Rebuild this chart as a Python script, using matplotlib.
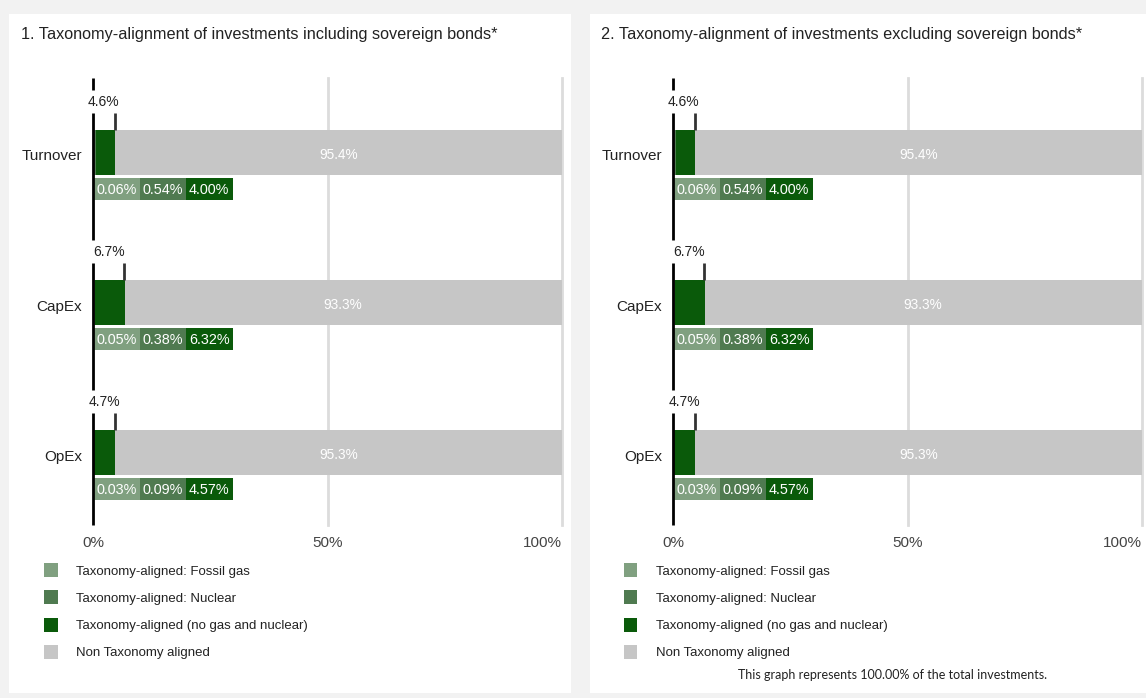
import matplotlib
matplotlib.use("Agg")
import matplotlib.pyplot as plt
from matplotlib.patches import Rectangle

plt.rcParams['font.family'] = ['Liberation Sans', 'DejaVu Sans']

W, H = 1146, 698

categories = ["Turnover", "CapEx", "OpEx"]
fossil_gas = [0.06, 0.05, 0.03]
nuclear = [0.54, 0.38, 0.09]
aligned_no_gas = [4.00, 6.32, 4.57]
total_aligned = [4.6, 6.7, 4.7]
non_aligned = [95.4, 93.3, 95.3]
titles = ["1. Taxonomy-alignment of investments including sovereign bonds*",
          "2. Taxonomy-alignment of investments excluding sovereign bonds*"]
legend_labels = ["Taxonomy-aligned: Fossil gas", "Taxonomy-aligned: Nuclear",
                 "Taxonomy-aligned (no gas and nuclear)", "Non Taxonomy aligned"]
xticks = [0, 50, 100]
xtick_labels = ["0%", "50%", "100%"]
footnote = "This graph represents 100.00% of the total investments."

C_GAS = "#80a080"
C_NUC = "#4f7a50"
C_ALI = "#0a5a0a"
C_NON = "#c6c6c6"
colors = [C_GAS, C_NUC, C_ALI, C_NON]

fig = plt.figure(figsize=(W / 100, H / 100), dpi=100)
fig.patch.set_facecolor("#f2f2f2")


def fx(x):
    return x / W


def fy(y):
    return 1 - y / H


def fig_rect(x0, y0, x1, y1, color, z=0):
    fig.patches.append(Rectangle((fx(x0), fy(y1)), fx(x1) - fx(x0), fy(y0) - fy(y1),
                                 transform=fig.transFigure, facecolor=color,
                                 edgecolor="none", zorder=z))


# panel backgrounds
fig_rect(9, 14, 571, 693, "white", z=-5)
fig_rect(590, 14, 1146, 693, "white", z=-5)

panels = [dict(x0=93, x1=562, tx=21, lx=44), dict(x0=673, x1=1142, tx=601, lx=624)]

ytop_px, ybot_px = 78, 525
c0_px, step = 152.5, 150.0
ylim_top = (ytop_px - c0_px) / step
ylim_bot = (ybot_px - c0_px) / step
txt_dy = 2.5 / step

for p, title in zip(panels, titles):
    ax = fig.add_axes([fx(p["x0"]), fy(ybot_px), fx(p["x1"]) - fx(p["x0"]),
                       fy(ytop_px) - fy(ybot_px)])
    ax.set_zorder(5)
    ax.set_xlim(0, 100)
    ax.set_ylim(ylim_bot, ylim_top)
    ax.set_facecolor("none")
    for s in ax.spines.values():
        s.set_visible(False)

    ypos = list(range(len(categories)))
    # gridlines
    for g in [50, 100]:
        ax.axvline(g, color="#dcdcdc", lw=2, zorder=0, clip_on=False)

    # main stacked bars
    bh = 45 / step
    left = [0.0] * len(categories)
    for vals, col in zip([fossil_gas, nuclear, aligned_no_gas, non_aligned], colors):
        ax.barh(ypos, vals, left=left, height=bh, color=col, zorder=2)
        left = [l + v for l, v in zip(left, vals)]
    for i, (na, ta) in enumerate(zip(non_aligned, total_aligned)):
        ax.text(ta + na / 2, i + txt_dy, f"{na:.1f}%", color="white", ha="center",
                va="center", fontsize=9.8, zorder=3)

    # detail boxes
    sub_off = (189 - c0_px) / step
    sub_h = 22 / step
    box_w = 46.5 / (p["x1"] - p["x0"]) * 100
    for j, (vals, col) in enumerate(zip([fossil_gas, nuclear, aligned_no_gas], colors[:3])):
        ax.barh([i + sub_off for i in ypos], [box_w] * len(ypos), left=j * box_w,
                height=sub_h, color=col, zorder=2)
        for i, v in enumerate(vals):
            ax.text(j * box_w + box_w / 2, i + sub_off + 1.2 / step, f"{v:.2f}%",
                    color="white", ha="center", va="center", fontsize=10.4, zorder=3)

    # brackets
    gap_top = (90 - c0_px) / step
    gap_bot = (113 - c0_px) / step
    lab_off = (102 - c0_px) / step
    segs = [ylim_top]
    for i in ypos:
        segs += [i + gap_top, i + gap_bot]
    segs.append(ylim_bot)
    for k in range(0, len(segs), 2):
        ax.plot([0, 0], [segs[k], segs[k + 1]], color="black", lw=2,
                solid_capstyle="butt", zorder=4, clip_on=False)
    for i, ta in enumerate(total_aligned):
        ax.plot([ta, ta], [i + gap_bot, i - bh / 2], color="#333333", lw=2,
                solid_capstyle="butt", zorder=4)
        ax.text(ta / 2, i + lab_off, f"{ta:.1f}%", ha="center", va="center",
                fontsize=10, color="#222222")

    ax.set_yticks([i + txt_dy for i in ypos])
    ax.set_yticklabels(categories, fontsize=11, color="#222222")
    ax.set_xticks(xticks)
    ax.set_xticklabels(xtick_labels, fontsize=11, color="#444444")
    ax.get_xticklabels()[-1].set_ha("right")
    ax.tick_params(axis="y", length=0, pad=8)
    ax.tick_params(axis="x", length=0, pad=8)

    fig.text(fx(p["tx"]), fy(34), title, fontsize=11.7, color="#222222",
             ha="left", va="center")

    # legend
    for k, (lab, col) in enumerate(zip(legend_labels, colors)):
        yc = 570 + k * 27.3
        fig_rect(p["lx"], yc - 7, p["lx"] + 13.5, yc + 7, col, z=2)
        fig.text(fx(p["lx"] + 32), fy(yc + 1.5), lab, fontsize=9.5, color="#222222",
                 ha="left", va="center")

fig.text(fx(893), fy(675), footnote, fontsize=9.0, color="#222222",
         ha="center", va="center", family=["Lato", "DejaVu Sans"])

fig.savefig("out.png", dpi=100, facecolor=fig.get_facecolor())
